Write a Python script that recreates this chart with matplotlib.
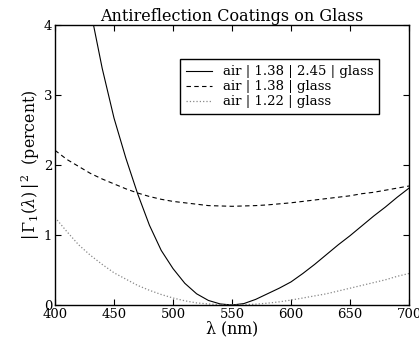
import matplotlib
matplotlib.use("Agg")
import matplotlib.pyplot as plt

plt.rcParams['font.family'] = ['DejaVu Serif']
plt.rcParams['mathtext.fontset'] = 'dejavuserif'

# wavelength samples (nm)
wavelengths = [400, 410, 420, 430, 440, 450, 460, 470, 480, 490, 500,
               510, 520, 530, 540, 550, 560, 570, 580, 590, 600,
               610, 620, 630, 640, 650, 660, 670, 680, 690, 700]

# |Gamma1|^2 in percent
two_layer = [7.2, 6.1, 5.1, 4.22, 3.38, 2.67, 2.10, 1.59, 1.14, 0.78, 0.52,
             0.31, 0.16, 0.065, 0.015, 0.0, 0.02, 0.08, 0.16, 0.24, 0.33,
             0.45, 0.58, 0.72, 0.86, 0.99, 1.13, 1.27, 1.40, 1.54, 1.67]
single_138 = [2.21, 2.08, 1.98, 1.88, 1.80, 1.73, 1.66, 1.60, 1.55, 1.51, 1.48,
              1.46, 1.44, 1.42, 1.415, 1.41, 1.415, 1.42, 1.43, 1.445, 1.46,
              1.48, 1.50, 1.52, 1.54, 1.56, 1.59, 1.61, 1.64, 1.67, 1.70]
single_122 = [1.25, 1.05, 0.86, 0.71, 0.58, 0.46, 0.37, 0.28, 0.21, 0.15, 0.10,
              0.06, 0.03, 0.015, 0.004, 0.0, 0.003, 0.012, 0.026, 0.045, 0.07,
              0.10, 0.13, 0.16, 0.20, 0.24, 0.28, 0.32, 0.36, 0.41, 0.45]

labels = ['air | 1.38 | 2.45 | glass', 'air | 1.38 | glass', 'air | 1.22 | glass']
xticks = [400, 450, 500, 550, 600, 650, 700]
yticks = [0, 1, 2, 3, 4]

fig = plt.figure(figsize=(4.19, 3.46), dpi=100)
ax = fig.add_axes([0.1313, 0.1185, 0.8449, 0.8092])

ax.plot(wavelengths, two_layer, '-', color='black', lw=0.8, label=labels[0])
ax.plot(wavelengths, single_138, '--', color='black', lw=0.8, dashes=(4, 3), label=labels[1])
ax.plot(wavelengths, single_122, ':', color='#888888', lw=0.9, label=labels[2])

ax.set_xlim(400, 700)
ax.set_ylim(0, 4)
ax.set_xticks(xticks)
ax.set_yticks(yticks)
ax.tick_params(direction='in', top=True, right=True, length=4, width=0.8,
               labelsize=9.5, pad=2)
for s in ax.spines.values():
    s.set_linewidth(1.0)

ax.set_title('Antireflection Coatings on Glass', fontsize=11.5, pad=3)
ax.set_xlabel(r'$\mathregular{\lambda}$ (nm)', fontsize=11.5, labelpad=-1)
ax.set_ylabel(r'$|\,\Gamma_1(\lambda)\,|^{\,2}$  (percent)', fontsize=11.3, labelpad=1)

leg = ax.legend(loc='upper left', bbox_to_anchor=(0.353, 0.877), fontsize=9.5,
                frameon=True, fancybox=False, edgecolor='black', framealpha=1,
                handlelength=2.0, handletextpad=0.8, borderpad=0.45,
                labelspacing=0.15, borderaxespad=0)
leg.get_frame().set_linewidth(1.0)

fig.savefig('out.png', dpi=100)
